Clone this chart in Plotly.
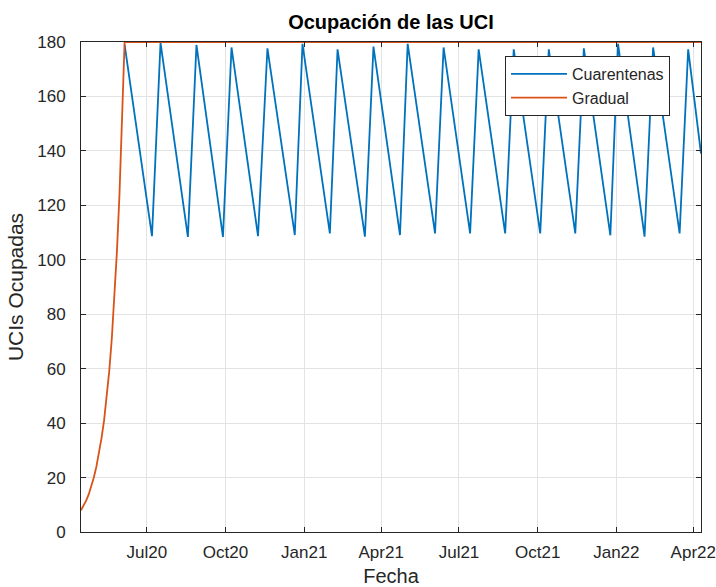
import plotly.graph_objects as go

# ---- data ----
cuar_dates = ["2020-06-05", "2020-07-07", "2020-07-17", "2020-08-18", "2020-08-28",
              "2020-09-28", "2020-10-08", "2020-11-08", "2020-11-19", "2020-12-21",
              "2020-12-30", "2021-01-31", "2021-02-09", "2021-03-13", "2021-03-23",
              "2021-04-23", "2021-05-02", "2021-06-03", "2021-06-13", "2021-07-14",
              "2021-07-24", "2021-08-24", "2021-09-03", "2021-10-04", "2021-10-14",
              "2021-11-14", "2021-11-24", "2021-12-25", "2022-01-03", "2022-02-03",
              "2022-02-13", "2022-03-16", "2022-03-26", "2022-04-10"]
cuar_values = [179, 108.7, 179.7, 108.4, 178.9, 108.4, 178, 108.7, 177.7, 109.1,
               179.3, 109.7, 177.3, 108.5, 178.3, 109.1, 179.3, 109.7, 178, 109.7,
               177.3, 109.7, 177.3, 109.7, 177.3, 109.7, 177.7, 109, 179.3, 108.5,
               178, 109.7, 177.3, 139]

grad_dates = ["2020-04-15", "2020-04-18", "2020-04-21", "2020-04-24", "2020-04-27",
              "2020-04-30", "2020-05-03", "2020-05-06", "2020-05-09", "2020-05-12",
              "2020-05-15", "2020-05-18", "2020-05-21", "2020-05-24", "2020-05-27",
              "2020-05-30", "2020-06-02", "2020-06-05", "2022-04-10"]
grad_values = [8, 9.6, 11.5, 13.8, 16.6, 20, 24, 28.7, 34.5, 41, 50, 59, 71, 86,
               103, 124, 149, 180, 180]

x_tickvals = ["2020-07-01", "2020-10-01", "2021-01-01", "2021-04-01",
              "2021-07-01", "2021-10-01", "2022-01-01", "2022-04-01"]
x_ticktext = ["Jul20", "Oct20", "Jan21", "Apr21", "Jul21", "Oct21", "Jan22", "Apr22"]
y_tickvals = [0, 20, 40, 60, 80, 100, 120, 140, 160, 180]

BLUE = "#0072BD"
ORANGE = "#D95319"
AX = "#262626"
FONT = "Liberation Sans, Arial, sans-serif"

fig = go.Figure()
fig.add_trace(go.Scatter(x=cuar_dates, y=cuar_values, mode="lines", name="Cuarentenas",
                         line=dict(color=BLUE, width=1.8)))
fig.add_trace(go.Scatter(x=grad_dates, y=grad_values, mode="lines", name="Gradual",
                         line=dict(color=ORANGE, width=1.8)))

axis_common = dict(showline=True, linecolor=AX, linewidth=1, mirror="allticks",
                   ticks="inside", ticklen=5, tickcolor=AX, tickwidth=1,
                   showgrid=True, gridcolor="#e3e3e3", gridwidth=1, zeroline=False,
                   tickfont=dict(family=FONT, size=17, color=AX))

fig.update_xaxes(type="date", range=["2020-04-15", "2022-04-10"],
                 tickmode="array", tickvals=x_tickvals, ticktext=x_ticktext,
                 ticklabelstandoff=5,
                 title=dict(text="Fecha", font=dict(family=FONT, size=20, color=AX), standoff=12),
                 **axis_common)
fig.update_yaxes(range=[0, 180], tickmode="array", tickvals=y_tickvals,
                 ticklabelstandoff=11,
                 title=dict(text="UCIs Ocupadas", font=dict(family=FONT, size=21, color=AX), standoff=7),
                 **axis_common)

fig.update_layout(
    width=716, height=587,
    margin=dict(l=81, r=15, t=42, b=55, autoexpand=False),
    paper_bgcolor="white", plot_bgcolor="white",
    title=dict(text="<b>Ocupación de las UCI</b>", x=0.5, xref="paper",
               y=1 - 22 / 587, yref="container", yanchor="middle", xanchor="center",
               font=dict(family=FONT, size=20, color="#000000")),
    legend=dict(x=0.95, y=0.9714, xanchor="right", yanchor="top",
                bgcolor="white", bordercolor=AX, borderwidth=1,
                font=dict(family=FONT, size=16, color=AX),
                itemwidth=56, tracegroupgap=0),
    showlegend=True,
)

# remove the default page margin so the figure fills the window exactly
fig.write_html("out.html",
               config={"displayModeBar": False},
               post_script="document.body.style.margin='0';"
                           "document.body.style.overflow='hidden';")
